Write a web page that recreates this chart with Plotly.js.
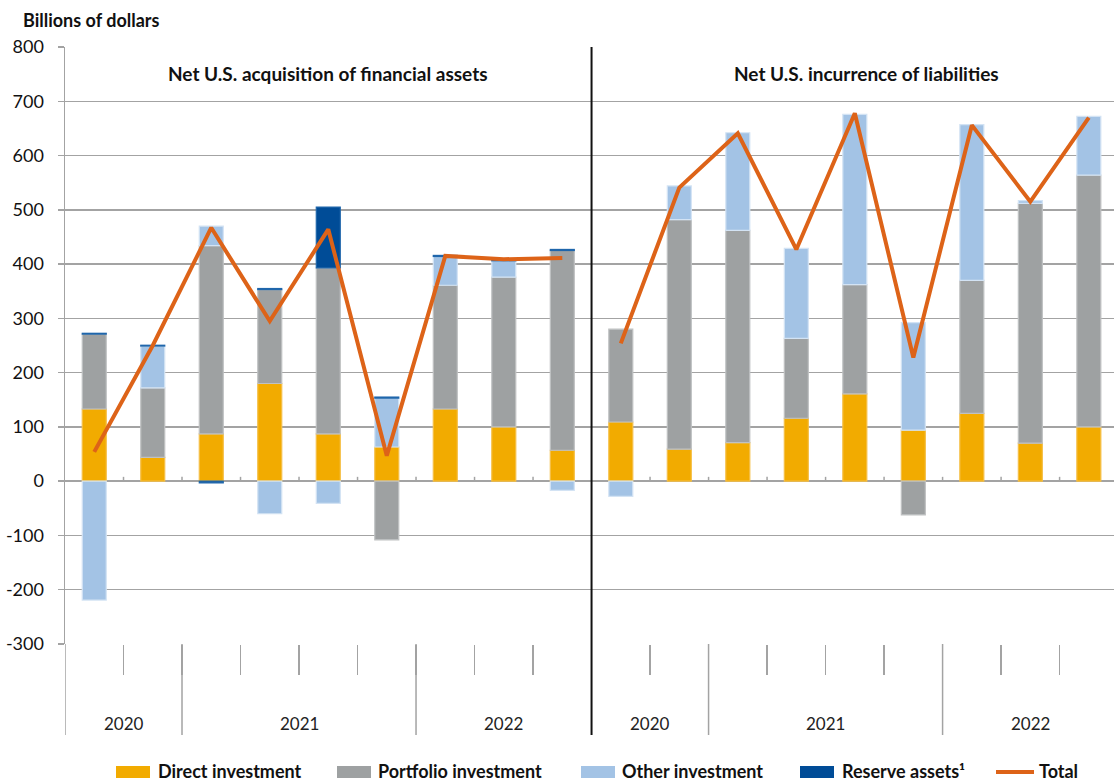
<!DOCTYPE html>
<html>
<head>
<meta charset="utf-8">
<script src="https://cdn.plot.ly/plotly-3.0.1.min.js"></script>
<style>html,body{margin:0;padding:0;background:#fff;}#chart{width:1114px;height:784px;}</style>
</head>
<body>
<div id="chart"></div>
<script>
// ---- Data (billions of dollars), quarters 2020Q3..2022Q3 ----
// first 9 = Net U.S. acquisition of financial assets, last 9 = Net U.S. incurrence of liabilities
const panelTitles = ['Net U.S. acquisition of financial assets', 'Net U.S. incurrence of liabilities'];
const yearLabels = ['2020', '2021', '2022'];
const yearCounts = [2, 4, 3];
const seriesNames = ['Direct investment', 'Portfolio investment', 'Other investment', 'Reserve assets\u00b9', 'Total'];
const directInv    = [133, 44, 87, 180, 87, 63, 133, 100, 57,   109, 59, 71, 116, 161, 94, 125, 70, 100];
const portfolioInv = [138, 128, 347, 173, 306, -108, 228, 276, 368,   171, 423, 391, 147, 201, -62, 245, 442, 464];
const otherInv     = [-219, 77, 36, -60, -41, 90, 53, 30, -17,   -28, 62, 180, 166, 314, 198, 287, 5, 108];
const reserveAss   = [1.5, 1.5, -3, 2, 112, 2, 2, 1, 2,   null, null, null, null, null, null, null, null, null];
const totalVals    = [54, 250, 467, 295, 464, 47, 415, 409, 411,   254, 541, 641, 427, 678, 228, 656, 515, 670];
const yTicks = [-300, -200, -100, 0, 100, 200, 300, 400, 500, 600, 700, 800];

// ---- Styling / layout constants ----
const W = 1114, H = 784;
const M = {l: 65, r: 0, t: 47, b: 140};
const plotW = W - M.l - M.r, plotH = H - M.t - M.b;
const px2x = px => (px - M.l) / plotW;          // pixel -> paper x
const py2y = py => (H - M.b - py) / plotH;      // pixel -> paper y
const nPer = 9;
const xs = directInv.map((_, i) => i);
const colors = ['#f2ab00', '#9ea1a2', '#a3c3e5', '#004c97', '#dd6318'];
const borders = ['#f5bf45', '#bfc1c2', '#d3e3f4', '#1f66ab'];
const font = 'Lato, "Noto Sans", sans-serif';
const gridC = '#a3a3a3';

function barTrace(vals, k) {
  return {
    type: 'bar', x: xs, y: vals, name: seriesNames[k], showlegend: false,
    marker: {color: colors[k], line: {color: borders[k], width: 1.2}},
    width: 0.41, hoverinfo: 'y+name'
  };
}
const traces = [
  barTrace(directInv, 0),
  barTrace(portfolioInv, 1),
  barTrace(otherInv, 2),
  barTrace(reserveAss, 3),
];
[0, 1].forEach(p => {
  const ix = xs.slice(p * nPer, (p + 1) * nPer);
  traces.push({
    type: 'scatter', mode: 'lines', x: ix, y: ix.map(i => totalVals[i]),
    name: seriesNames[4], showlegend: false,
    line: {color: colors[4], width: 4}
  });
});

const boundaries = [];
for (let i = 0; i < xs.length - 1; i++) boundaries.push(i + 0.5);
const innerBounds = boundaries.filter(b => b !== nPer - 0.5);

const shapes = [];
const annotations = [];
const sepBottom = py2y(735);
const yearY = py2y(723);
for (let p = 0; p < 2; p++) {
  let start = p * nPer - 0.5;
  yearLabels.forEach((yl, j) => {
    const end = start + yearCounts[j];
    annotations.push({
      x: (start + end) / 2, y: yearY, xref: 'x', yref: 'paper', text: yl, showarrow: false,
      font: {family: font, size: 17, color: '#222'}, yanchor: 'middle'
    });
    if (j > 0) {
      shapes.push({type: 'line', xref: 'x', yref: 'paper', x0: start, x1: start, y0: 0, y1: sepBottom,
        line: {color: gridC, width: 1.5}});
    }
    start = end;
  });
}
// left axis extension below the plot
shapes.push({type: 'line', xref: 'x', yref: 'paper', x0: -0.5, x1: -0.5, y0: 0, y1: sepBottom, line: {color: gridC, width: 1.5}});
// panel divider
shapes.push({type: 'line', xref: 'x', yref: 'paper', x0: nPer - 0.5, x1: nPer - 0.5, y0: 1, y1: sepBottom, line: {color: '#111', width: 2}});
// small ticks on the zero line
innerBounds.forEach(b => {
  shapes.push({type: 'line', xref: 'x', yref: 'y', x0: b, x1: b, y0: 0, y1: 8, line: {color: gridC, width: 1.5}, layer: 'below'});
});

// panel titles
const titleX = [4, 13.2];
panelTitles.forEach((t, p) => {
  annotations.push({
    x: titleX[p], y: py2y(74), xref: 'x', yref: 'paper', text: '<b>' + t + '</b>', showarrow: false,
    font: {family: font, size: 19, color: '#111'}, yanchor: 'middle'
  });
});
annotations.push({
  x: px2x(21), y: py2y(20), xref: 'paper', yref: 'paper', text: '<b>Billions of dollars</b>', showarrow: false,
  xanchor: 'left', yanchor: 'middle', font: {family: font, size: 18, color: '#111'}
});

// custom legend (wide swatches as in the original)
const legendY = 771;
const legendItems = [
  {k: 0, sw: [116, 150], tx: 156},
  {k: 1, sw: [337, 371], tx: 376},
  {k: 2, sw: [581, 615], tx: 620},
  {k: 3, sw: [800, 834], tx: 840},
  {k: 4, sw: [996, 1034], tx: 1037, line: true},
];
legendItems.forEach(it => {
  if (it.line) {
    shapes.push({type: 'line', xref: 'paper', yref: 'paper', x0: px2x(it.sw[0]), x1: px2x(it.sw[1]),
      y0: py2y(legendY + 1), y1: py2y(legendY + 1), line: {color: colors[it.k], width: 4}});
  } else {
    shapes.push({type: 'rect', xref: 'paper', yref: 'paper', x0: px2x(it.sw[0]), x1: px2x(it.sw[1]),
      y0: py2y(legendY - 5), y1: py2y(legendY + 7), fillcolor: colors[it.k], line: {width: 0}});
  }
  annotations.push({
    x: px2x(it.tx), y: py2y(legendY), xref: 'paper', yref: 'paper', text: '<b>' + seriesNames[it.k] + '</b>',
    showarrow: false, xanchor: 'left', yanchor: 'middle', font: {family: font, size: 18, color: '#111'}
  });
});

const layout = {
  width: W, height: H,
  margin: {l: M.l, r: M.r, t: M.t, b: M.b, autoexpand: false},
  paper_bgcolor: '#fff', plot_bgcolor: '#fff',
  barmode: 'relative',
  font: {family: font, color: '#111'},
  showlegend: false,
  xaxis: {
    range: [-0.5, 17.43], showgrid: false, zeroline: false, showline: false,
    tickmode: 'array', tickvals: innerBounds, ticktext: innerBounds.map(() => ''),
    ticks: 'outside', ticklen: 30, tickwidth: 1.5, tickcolor: gridC, showticklabels: false, fixedrange: true
  },
  yaxis: {
    range: [-300, 800], tickmode: 'array', tickvals: yTicks, ticktext: yTicks.map(String),
    showgrid: true, gridcolor: gridC, gridwidth: 1.5, zeroline: true, zerolinecolor: gridC, zerolinewidth: 1.5,
    showline: true, linecolor: gridC, linewidth: 1.5, ticks: 'outside', ticklen: 6, tickwidth: 1.5, tickcolor: gridC,
    tickfont: {family: font, size: 18, color: '#111'}, ticklabelstandoff: 10, fixedrange: true
  },
  shapes: shapes,
  annotations: annotations
};

Plotly.newPlot('chart', traces, layout, {displayModeBar: false, staticPlot: true});
</script>
</body>
</html>
